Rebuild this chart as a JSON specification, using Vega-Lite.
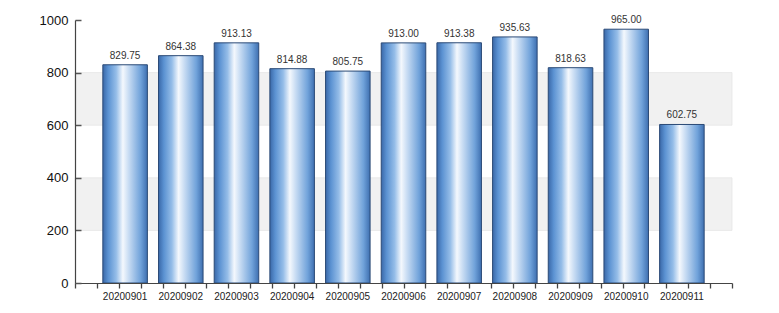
{
  "$schema": "https://vega.github.io/schema/vega-lite/v6.json",
  "autosize": {"type": "none"},
  "width": 657,
  "height": 263,
  "padding": {"left": 75, "top": 20, "right": 47, "bottom": 30},
  "background": "white",
  "config": {"view": {"stroke": null}, "font": "Liberation Sans"},
  "datasets": {
    "bars": [
      {"date": "20200901", "value": 829.75},
      {"date": "20200902", "value": 864.38},
      {"date": "20200903", "value": 913.13},
      {"date": "20200904", "value": 814.88},
      {"date": "20200905", "value": 805.75},
      {"date": "20200906", "value": 913.00},
      {"date": "20200907", "value": 913.38},
      {"date": "20200908", "value": 935.63},
      {"date": "20200909", "value": 818.63},
      {"date": "20200910", "value": 965.00},
      {"date": "20200911", "value": 602.75}
    ],
    "bands": [
      {"lo": 200, "hi": 400},
      {"lo": 600, "hi": 800}
    ]
  },
  "layer": [
    {
      "data": {"name": "bands"},
      "mark": {"type": "rect", "fill": "#f1f1f1", "stroke": "#e6e6e6", "strokeWidth": 0.8},
      "encoding": {
        "x": {"datum": 0, "type": "quantitative", "scale": {"domain": [0, 30], "nice": false}, "axis": {"orient": "bottom", "values": [0,1,2,3,4,5,6,7,8,9,10,11,12,13,14,15,16,17,18,19,20,21,22,23,24,25,26,27,28,29,30], "labels": false, "grid": false, "title": null, "domainColor": "#444", "domainWidth": 1.2, "tickColor": "#444", "tickWidth": 1.3, "tickSize": 5, "zindex": 2}},
        "x2": {"datum": 30},
        "y": {"field": "lo", "type": "quantitative", "scale": {"domain": [0, 1000], "nice": false}, "axis": {"values": [0, 200, 400, 600, 800, 1000], "format": "d", "grid": false, "title": null, "domainColor": "#444", "domainWidth": 1.2, "tickColor": "#555", "tickSize": -6, "tickWidth": 1.5, "labelPadding": 13, "labelFontSize": 13, "labelColor": "#111", "zindex": 2}},
        "y2": {"field": "hi"}
      }
    },
    {
      "data": {"name": "bars"},
      "layer": [
        {
          "mark": {
            "type": "bar",
            "stroke": "#2b4a76",
            "strokeWidth": 1,
            "color": {
              "gradient": "linear",
              "x1": 0, "x2": 1, "y1": 0, "y2": 0,
              "stops": [
                {"offset": 0, "color": "#3a68a8"},
                {"offset": 0.12, "color": "#5b92d2"},
                {"offset": 0.3, "color": "#95bde8"},
                {"offset": 0.45, "color": "#f4f8fd"},
                {"offset": 0.58, "color": "#c8dcf3"},
                {"offset": 0.85, "color": "#70a2da"},
                {"offset": 1, "color": "#3e6fb0"}
              ]
            }
          },
          "encoding": {
            "x": {"field": "date", "type": "nominal", "sort": null, "scale": {"paddingInner": 0.2, "paddingOuter": 0.5}, "axis": {"orient": "bottom", "title": null, "ticks": false, "domain": false, "labelAngle": 0, "labelFontSize": 10, "labelColor": "#222", "labelPadding": 8}},
            "y": {"field": "value", "type": "quantitative"}
          }
        },
        {
          "mark": {"type": "text", "dy": -9, "fontSize": 10, "color": "#333"},
          "encoding": {
            "x": {"field": "date", "type": "nominal", "sort": null},
            "y": {"field": "value", "type": "quantitative"},
            "text": {"field": "value", "type": "quantitative", "format": ".2f"}
          }
        }
      ]
    }
  ],
  "resolve": {"scale": {"x": "independent"}, "axis": {"x": "independent"}}
}
